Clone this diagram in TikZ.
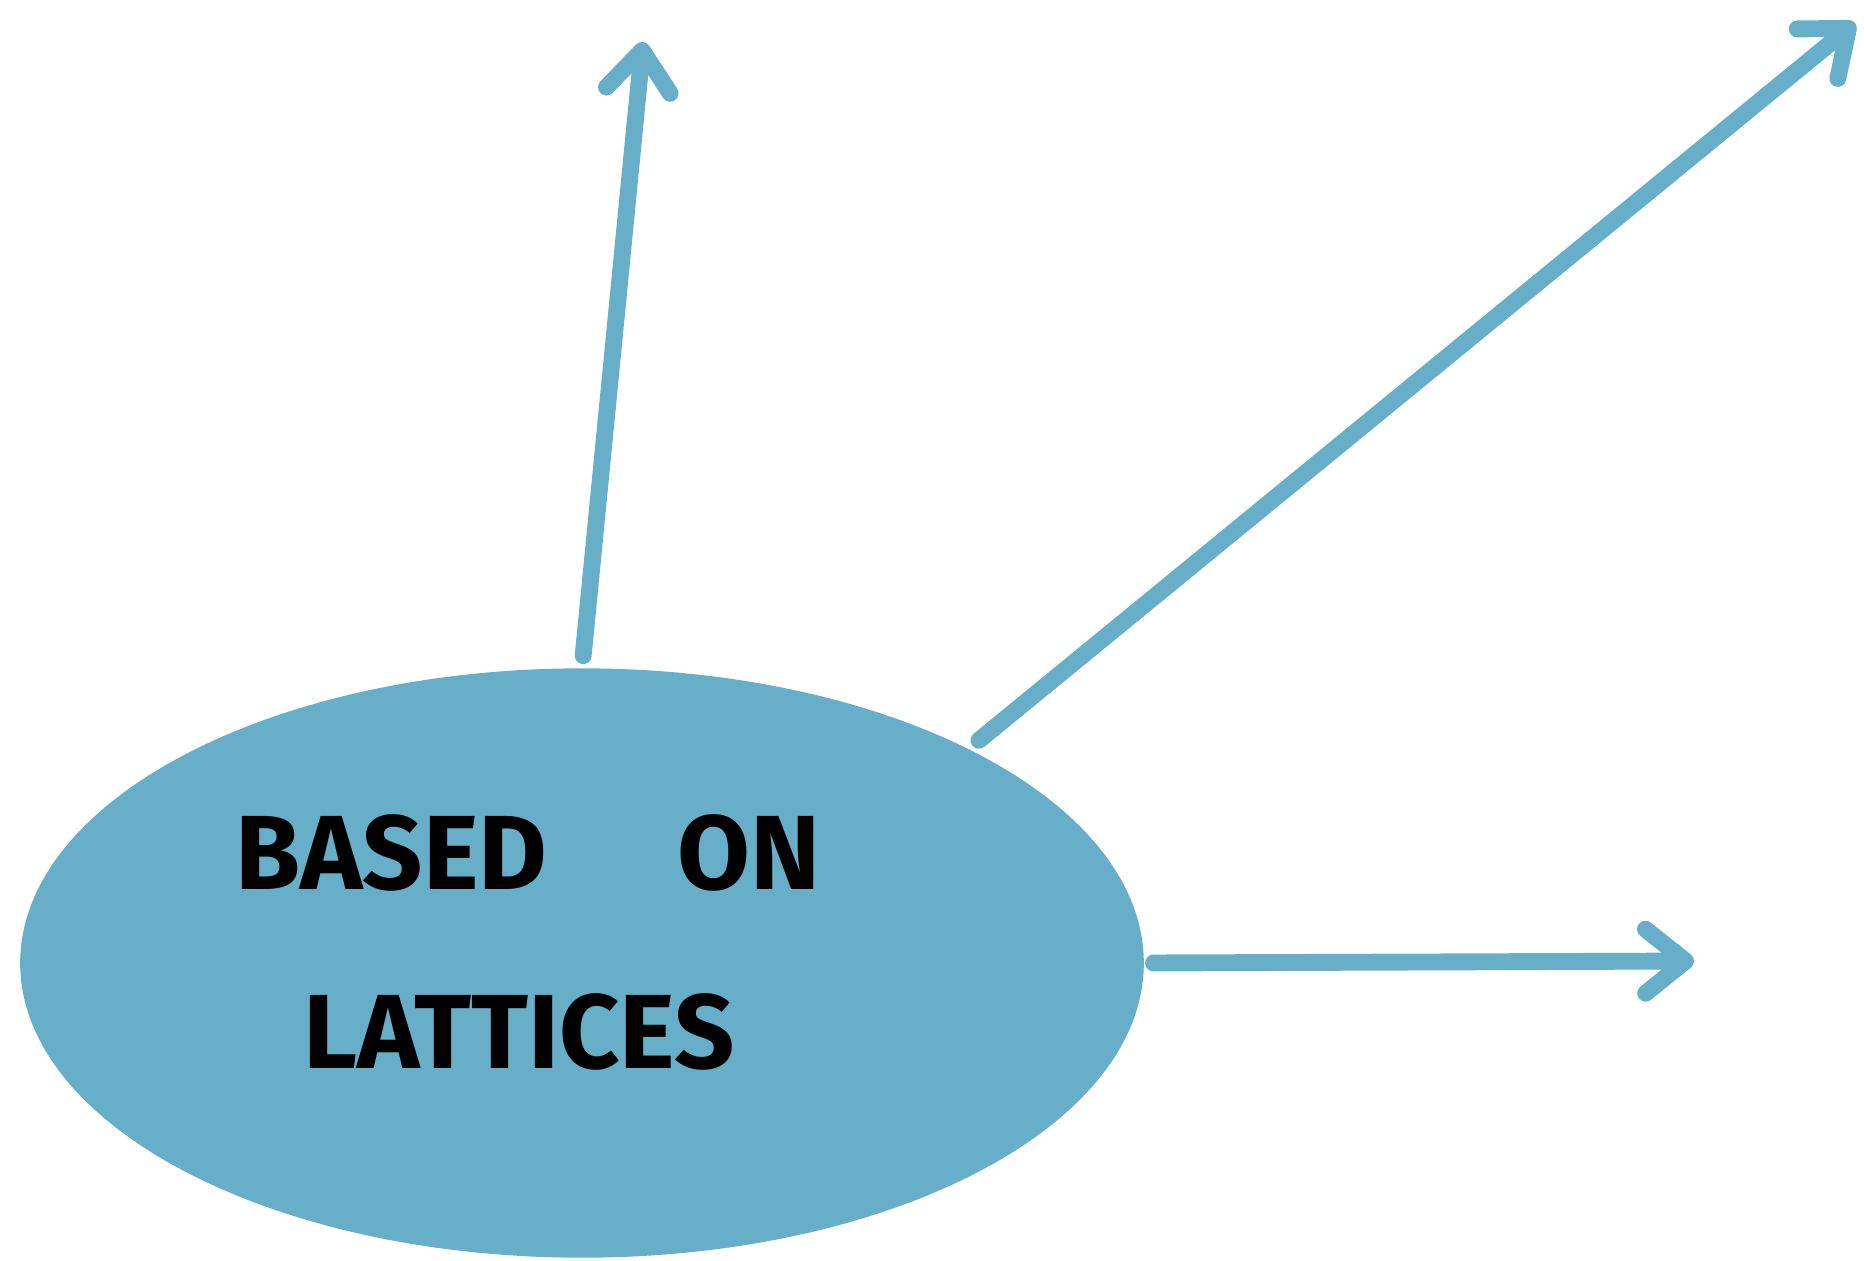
\documentclass[tikz,border=0pt]{standalone}
\usepackage{fontspec}
\setsansfont{Fira Sans}
\usepackage{xcolor}
\usepackage{tikz}
\usetikzlibrary{positioning,arrows.meta,shapes.geometric}
\definecolor{LatBlue}{RGB}{103,175,201}

\begin{document}
\begin{tikzpicture}[
  x=0.01cm, y=-0.01cm,
  font=\sffamily\bfseries\fontsize{30}{36}\selectfont,
  blob/.style={ellipse,fill=LatBlue,draw=none,inner sep=0pt,minimum width=11.23cm,minimum height=5.89cm},
  lbl/.style={text=black,inner sep=0pt},
  ar/.style={-{Straight Barb[round,length=4mm,width=6.4mm]},draw=LatBlue,line width=4.8pt,line cap=round}
]
\useasboundingbox (0,0) rectangle (1864,1260);
\node[blob] (core) at (582,963) {};
\node[lbl] (based) at (528,853) {BASED\hspace{1.3cm}ON};
\node[lbl] (lattices) at (519,1032) {LATTICES};
\coordinate (up) at (643,42);
\coordinate (diag) at (1855,23);
\coordinate (side) at (1694,961);
\draw[ar,shorten <=0.12cm] (core.north) -- (up);
\draw[ar,shorten <=0.13cm] (core.29) -- (diag);
\draw[ar,shorten <=0.09cm] (core.east) -- (side);
\end{tikzpicture}
\end{document}
